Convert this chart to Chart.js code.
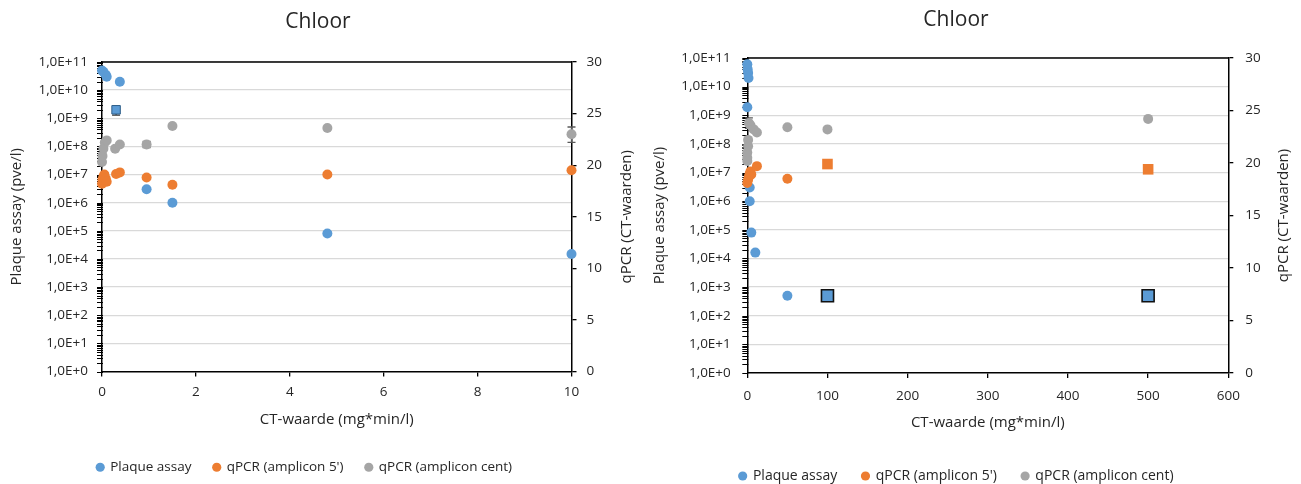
<!DOCTYPE html>
<html><head><meta charset="utf-8">
<script src="https://cdn.jsdelivr.net/npm/chart.js@4.4.0/dist/chart.umd.min.js"></script>
<style>
html,body{margin:0;padding:0;background:#fff;}
#wrap{position:relative;width:1301px;height:484px;overflow:hidden;background:#fff;}
canvas{position:absolute;top:0;}
#c1{left:0;} #c2{left:640px;}
</style></head><body>
<div id="wrap"><canvas id="c1" width="645" height="484"></canvas><canvas id="c2" width="661" height="484"></canvas></div>
<script>
// ---------- labels ----------
const chartTitle = 'Chloor';
const xTitle = 'CT-waarde (mg*min/l)';
const yTitle = 'Plaque assay (pve/l)';
const y2Title = 'qPCR (CT-waarden)';
const seriesNames = ['Plaque assay', "qPCR (amplicon 5')", 'qPCR (amplicon cent)'];
const yTickValues = [1, 1e1, 1e2, 1e3, 1e4, 1e5, 1e6, 1e7, 1e8, 1e9, 1e10, 1e11];
const yTickLabels = ['1,0E+0','1,0E+1','1,0E+2','1,0E+3','1,0E+4','1,0E+5','1,0E+6','1,0E+7','1,0E+8','1,0E+9','1,0E+10','1,0E+11'];

// ---------- left chart data (x 0..10) ----------
const leftPlaqueX = [0, 0.03, 0.08, 0.1, 0.38, 0.95, 1.5, 4.8, 10];
const leftPlaqueY = [5.0e10, 4.5e10, 3.5e10, 3.0e10, 2.0e10, 3.0e6, 1.0e6, 8.0e4, 1.5e4];
const leftPlaqueSqX = [0.3];
const leftPlaqueSqY = [2.0e9];
const leftPlaqueErrX = [0.3];
const leftPlaqueErrLow = [1.3e9];
const leftPlaqueErrHigh = [2.7e9];
const left5X = [0, 0.01, 0.03, 0.05, 0.08, 0.1, 0.3, 0.38, 0.95, 1.5, 4.8, 10];
const left5Y = [18.2, 18.6, 18.9, 19.1, 18.7, 18.4, 19.15, 19.3, 18.8, 18.1, 19.1, 19.5];
const leftCentX = [0, 0.01, 0.03, 0.06, 0.1, 0.28, 0.38, 0.95, 1.5, 4.8, 10];
const leftCentY = [20.3, 20.9, 21.6, 22.2, 22.4, 21.6, 22.0, 22.0, 23.8, 23.6, 23.0];
const leftCentErrX = [0.95, 10];
const leftCentErrLow = [21.7, 22.2];
const leftCentErrHigh = [22.3, 23.7];

// ---------- right chart data (x 0..600) ----------
const rightPlaqueX = [0, 0.5, 1, 1.5, 0, 3, 3, 5, 10, 50];
const rightPlaqueY = [6.0e10, 4.0e10, 3.0e10, 2.0e10, 1.9e9, 3.0e6, 1.0e6, 8.0e4, 1.6e4, 5.0e2];
const rightPlaqueSqX = [100, 500];
const rightPlaqueSqY = [5.0e2, 5.0e2];
const right5X = [0, 1, 2, 3, 4, 5, 12, 50];
const right5Y = [18.1, 18.4, 18.7, 19.0, 19.2, 18.9, 19.7, 18.5];
const right5SqX = [100, 500];
const right5SqY = [19.9, 19.4];
const rightCentX = [0, 0, 0, 1, 1, 2, 4, 8, 12, 50, 100, 500];
const rightCentY = [20.2, 20.5, 21.0, 21.6, 22.2, 23.8, 23.6, 23.2, 22.9, 23.4, 23.2, 24.2];
const rightCentErrX = [2];
const rightCentErrLow = [23.3];
const rightCentErrHigh = [24.3];

// ---------- styling ----------
const BLUE = '#5B9BD5', ORANGE = '#ED7D31', GRAY = '#A5A5A5';
const FONT = "'Open Sans', sans-serif";
const TXT = '#262626';
Chart.defaults.font.family = FONT;
Chart.defaults.color = TXT;

function pts(xs, ys) { return xs.map((x, i) => ({ x: x, y: ys[i] })); }
function bars(xs, lo, hi, axis, color) { return xs.map((x, i) => ({ x: x, low: lo[i], high: hi[i], axis: axis, color: color })); }

// chart title + right-axis title (rotated to read bottom-to-top) + legend shift
function textPlugin(c) {
  return {
    id: 'fixedText',
    afterLayout(chart) {
      if (chart.legend && c.legendShift) { chart.legend.left += c.legendShift; chart.legend.right += c.legendShift; }
    },
    afterDraw(chart) {
      const ctx = chart.ctx, a = chart.chartArea; ctx.save();
      ctx.fillStyle = TXT; ctx.textAlign = 'center'; ctx.textBaseline = 'middle';
      ctx.font = '21px ' + FONT;
      ctx.fillText(chartTitle, c.titleX, c.titleY);
      ctx.font = '15px ' + FONT;
      ctx.translate(c.y2TitleX, (a.top + a.bottom) / 2);
      ctx.rotate(-Math.PI / 2);
      ctx.fillText(y2Title, 0, 0);
      ctx.restore();
    }
  };
}
const axisDecor = { id: 'axisDecor', beforeDatasetsDraw(chart) {
  const ctx = chart.ctx, a = chart.chartArea, y = chart.scales.y;
  ctx.save();
  ctx.strokeStyle = '#000'; ctx.lineWidth = 1.5;
  ctx.beginPath(); ctx.moveTo(a.left, a.top); ctx.lineTo(a.right, a.top); ctx.stroke();
  ctx.lineWidth = 1.2; ctx.beginPath();
  for (let e = 0; e <= 11; e++) {
    for (let k = 1; k <= 9; k++) {
      const v = k * Math.pow(10, e);
      if (v > y.max * 1.0001) break;
      const py = Math.round(y.getPixelForValue(v)) + 0.5;
      ctx.moveTo(a.left - 5, py); ctx.lineTo(a.left + 1, py);
    }
  }
  ctx.stroke(); ctx.restore();
} };
function errorPlugin(list) {
  return { id: 'errorBars', beforeDatasetsDraw(chart) {
    const ctx = chart.ctx, xs = chart.scales.x;
    list.forEach(b => {
      const ys = chart.scales[b.axis];
      const px = xs.getPixelForValue(b.x), p1 = ys.getPixelForValue(b.low), p2 = ys.getPixelForValue(b.high);
      ctx.save(); ctx.strokeStyle = b.color; ctx.lineWidth = 1.3; ctx.beginPath();
      ctx.moveTo(px, p1); ctx.lineTo(px, p2);
      ctx.moveTo(px - 4, p1); ctx.lineTo(px + 4, p1);
      ctx.moveTo(px - 4, p2); ctx.lineTo(px + 4, p2);
      ctx.stroke(); ctx.restore();
    });
  } };
}

function ds(label, data, axis, color, extra) {
  return Object.assign({ label: label, data: data, yAxisID: axis, backgroundColor: color, borderColor: color,
    borderWidth: 0, pointRadius: 5, pointHoverRadius: 5, pointStyle: 'circle', clip: false }, extra || {});
}

function makeChart(id, c) {
  const tickFont = { size: 13.5 };
  return new Chart(document.getElementById(id), {
    type: 'scatter',
    data: { datasets: c.datasets },
    options: {
      responsive: false, animation: false, events: [],
      layout: { padding: { top: c.top, left: 0, right: 0, bottom: 0 } },
      plugins: {
        legend: { position: 'bottom', maxHeight: c.legendH,
          labels: { usePointStyle: true, pointStyle: 'circle', boxWidth: 6.5, boxHeight: 6.5, padding: c.legendPad,
            font: { size: c.legendFont }, color: TXT,
            filter: (it, data) => data.datasets[it.datasetIndex].inLegend !== false,
            sort: (a, b) => a.datasetIndex - b.datasetIndex } },
        tooltip: { enabled: false }
      },
      scales: {
        x: { type: 'linear', position: 'bottom', min: 0, max: c.xMax,
          ticks: { stepSize: c.xStep, padding: c.xTickPad, font: tickFont, color: TXT },
          grid: { drawOnChartArea: false, drawTicks: true, tickLength: 5, color: '#000', lineWidth: 1.3 },
          border: { color: '#000', width: 1.5 },
          title: { display: true, text: xTitle, font: { size: 15 }, color: TXT, padding: { top: 0, bottom: c.xTitlePad } },
          afterFit: s => { s.height = c.xH; } },
        y: { type: 'logarithmic', position: 'left', min: 1, max: 1e11,
          afterBuildTicks: s => { s.ticks = yTickValues.map(v => ({ value: v })); },
          ticks: { autoSkip: false, padding: c.yTickPad, font: tickFont, color: TXT, callback: (v, i) => yTickLabels[i] },
          grid: { color: ctx => (ctx.tick && ctx.tick.value === 1) ? 'rgba(0,0,0,0)' : '#d9d9d9', lineWidth: 1.3, drawTicks: false },
          border: { color: '#000', width: 1.5 },
          title: { display: true, text: yTitle, font: { size: 15 }, color: TXT, padding: { top: c.yTitlePad, bottom: 0 } },
          afterFit: s => { s.width = c.yW; } },
        y2: { type: 'linear', position: 'right', min: 0, max: 30,
          ticks: { stepSize: 5, padding: c.y2TickPad, font: tickFont, color: TXT },
          grid: { drawOnChartArea: false, drawTicks: true, tickLength: 5, color: '#000', lineWidth: 1.3 },
          border: { color: '#000', width: 1.5 },
          title: { display: false },
          afterFit: s => { s.width = c.y2W; } }
      }
    },
    plugins: [axisDecor, errorPlugin(c.errors), textPlugin(c)]
  });
}

makeChart('c1', {
  top: 62, legendH: 47, legendPad: 22, legendFont: 13.5, legendShift: -18,
  xH: 67, xMax: 10, xStep: 2, xTickPad: 8, xTitlePad: 10,
  yW: 102, yTickPad: 14, yTitlePad: 8, y2W: 73.5, y2TickPad: 10, y2TitleX: 626.5,
  titleX: 318, titleY: 22,
  datasets: [
    ds(seriesNames[0], pts(leftPlaqueX, leftPlaqueY), 'y', BLUE, { order: 3 }),
    ds(seriesNames[0], pts(leftPlaqueSqX, leftPlaqueSqY), 'y', BLUE, { order: 3, inLegend: false, pointStyle: 'rect', pointRadius: 6, pointHoverRadius: 6, borderColor: '#2f5f8a', borderWidth: 1 }),
    ds(seriesNames[1], pts(left5X, left5Y), 'y2', ORANGE, { order: 2 }),
    ds(seriesNames[2], pts(leftCentX, leftCentY), 'y2', GRAY, { order: 1 })
  ],
  errors: bars(leftPlaqueErrX, leftPlaqueErrLow, leftPlaqueErrHigh, 'y', '#333')
    .concat(bars(leftCentErrX, leftCentErrLow, leftCentErrHigh, 'y2', '#595959'))
});

makeChart('c2', {
  top: 58, legendH: 40, legendPad: 25, legendFont: 14, legendShift: -14,
  xH: 71, xMax: 600, xStep: 100, xTickPad: 10, xTitlePad: 12,
  yW: 107.3, yTickPad: 16.5, yTitlePad: 11, y2W: 72.7, y2TickPad: 12, y2TitleX: 643.3,
  titleX: 316, titleY: 20,
  datasets: [
    ds(seriesNames[0], pts(rightPlaqueX, rightPlaqueY), 'y', BLUE, { order: 3 }),
    ds(seriesNames[0], pts(rightPlaqueSqX, rightPlaqueSqY), 'y', BLUE, { order: 3, inLegend: false, pointStyle: 'rect', pointRadius: 8.5, pointHoverRadius: 8.5, borderColor: '#111', borderWidth: 1.6 }),
    ds(seriesNames[1], pts(right5X, right5Y), 'y2', ORANGE, { order: 2 }),
    ds(seriesNames[1], pts(right5SqX, right5SqY), 'y2', ORANGE, { order: 2, inLegend: false, pointStyle: 'rect', pointRadius: 7.5, pointHoverRadius: 7.5 }),
    ds(seriesNames[2], pts(rightCentX, rightCentY), 'y2', GRAY, { order: 1 })
  ],
  errors: bars(rightCentErrX, rightCentErrLow, rightCentErrHigh, 'y2', '#595959')
});
</script>
</body></html>
